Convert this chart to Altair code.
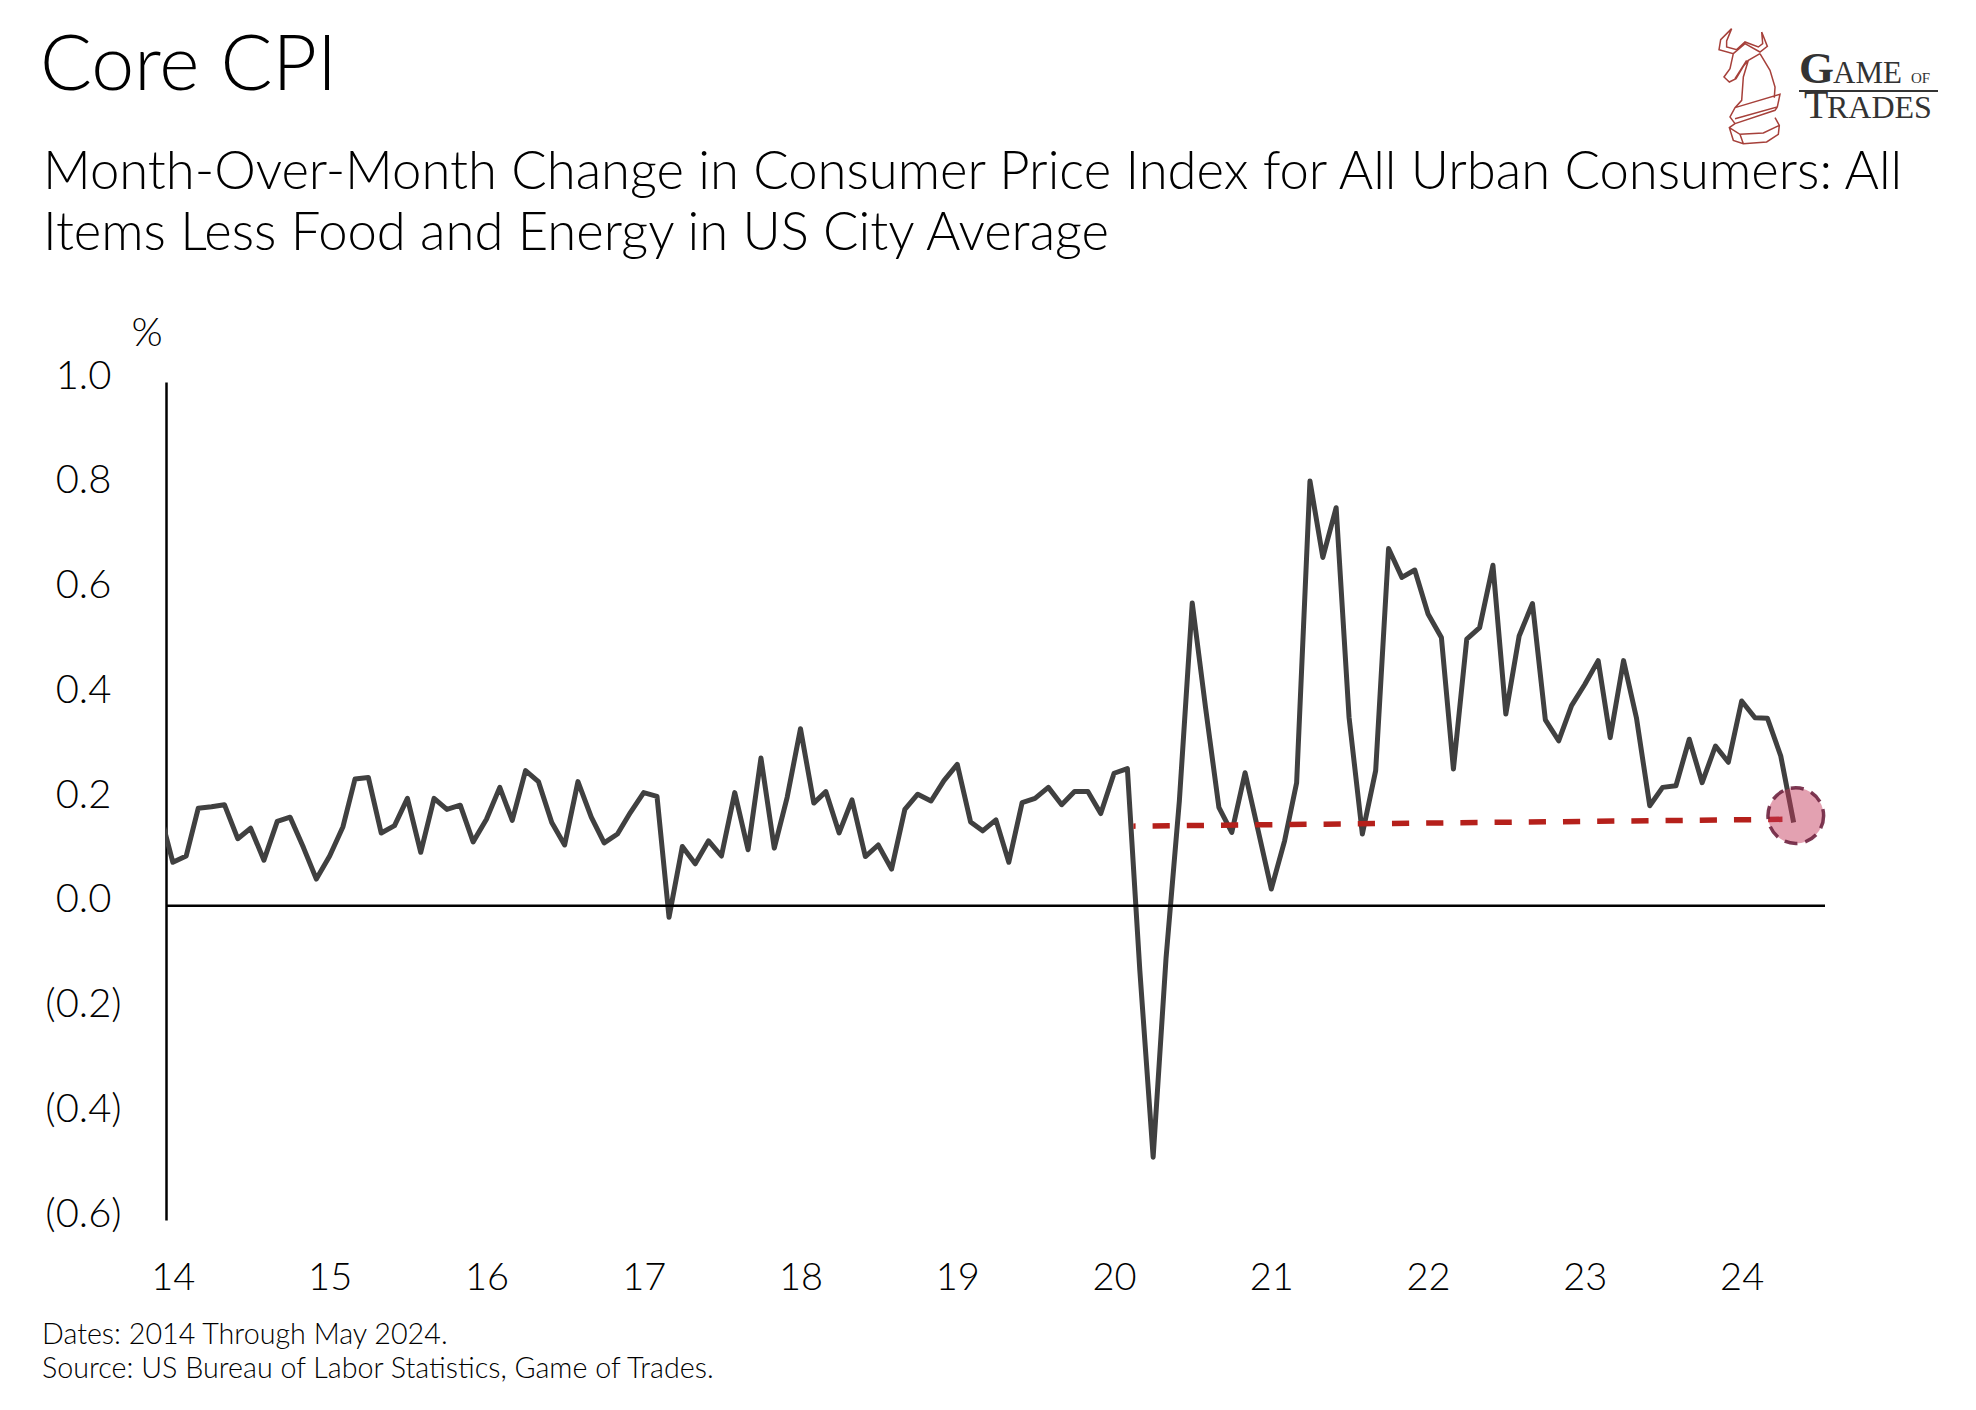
import altair as alt
import pandas as pd

# Monthly core CPI change, Dec 2013 through May 2024
cpi = [
    0.18,
    0.083, 0.095, 0.186, 0.189, 0.193, 0.128, 0.148, 0.087, 0.161, 0.169, 0.111, 0.051,
    0.095, 0.151, 0.242, 0.245, 0.139, 0.153, 0.205, 0.102, 0.205, 0.184, 0.192, 0.122,
    0.165, 0.226, 0.163, 0.258, 0.237, 0.159, 0.116, 0.237, 0.169, 0.120, 0.137, 0.178,
    0.216, 0.209, -0.022, 0.113, 0.080, 0.124, 0.095, 0.216, 0.107, 0.282, 0.110, 0.207,
    0.338, 0.196, 0.218, 0.139, 0.202, 0.094, 0.116, 0.070, 0.184, 0.213, 0.200, 0.239,
    0.270, 0.160, 0.143, 0.164, 0.083, 0.197, 0.205, 0.226, 0.193, 0.218, 0.218, 0.176,
    0.253, 0.262, -0.124, -0.480, -0.100, 0.200, 0.578, 0.378, 0.188, 0.140, 0.254, 0.145,
    0.032, 0.124, 0.235, 0.811, 0.665, 0.760, 0.360, 0.137, 0.258, 0.682, 0.627, 0.641,
    0.557, 0.512, 0.261, 0.509, 0.531, 0.650, 0.366, 0.515, 0.577, 0.355, 0.315, 0.382,
    0.423, 0.468, 0.321, 0.468, 0.359, 0.191, 0.226, 0.229, 0.318, 0.235, 0.305, 0.274,
    0.391, 0.359, 0.358, 0.286, 0.159,
]
months = pd.date_range("2013-12-01", periods=len(cpi), freq="MS")
trend_dates = ["2020-02-15T00:00:00", "2024-04-05T00:00:00"]
trend_values = [0.152, 0.165]
marker_date = ["2024-05-06T00:00:00"]
marker_value = [0.172]
x_domain = ["2013-12-16T00:00:00", "2024-07-13T00:00:00"]
y_domain = [-0.6, 1.0]
y_ticks = [1.0, 0.8, 0.6, 0.4, 0.2, 0.0, -0.2, -0.4, -0.6]

FONT = "Lato"
LEFT, TOP = 166, 382  # plot origin in page pixels

x_scale = alt.Scale(domain=x_domain)
y_scale = alt.Scale(domain=y_domain, nice=False, zero=False)


def text(t, x, y, size, font=FONT, weight=300, color="#000000", align="left"):
    return alt.Chart(pd.DataFrame({"t": [t]})).mark_text(
        align=align, baseline="alphabetic", fontSize=size, font=font,
        fontWeight=weight, color=color,
    ).encode(x=alt.value(x - LEFT), y=alt.value(y - TOP), text="t:N")


line = alt.Chart(pd.DataFrame({"date": months, "v": cpi})).mark_line(
    color="#404040", strokeWidth=5, clip=True, strokeJoin="round",
).encode(
    x=alt.X("date:T", scale=x_scale, title=None, axis=alt.Axis(
        format="%y", tickCount="year", domain=False, ticks=False, grid=False,
        labelFont=FONT, labelFontWeight=300, labelFontSize=38, labelColor="#000000",
        labelPadding=58, labelFlush=False, labelOverlap=False, labelBaseline="middle",
    )),
    y=alt.Y("v:Q", scale=y_scale, title=None, axis=alt.Axis(
        values=y_ticks, grid=False, ticks=False, domain=True, domainColor="#000000",
        domainWidth=2.5,
        labelExpr="datum.value < 0 ? '(' + format(-datum.value, '.1f') + ')' : format(datum.value, '.1f')",
        labelFont=FONT, labelFontWeight=300, labelFontSize=40, labelColor="#000000",
        labelAlign="center", labelPadding=83, labelOffset=-6, labelOverlap=False,
        labelFlush=False, labelBaseline="middle",
    )),
)

zero = alt.Chart(pd.DataFrame({"z": [0]})).mark_rule(color="#000000", strokeWidth=2.5).encode(
    y=alt.Y("z:Q", scale=y_scale)
)

trend = alt.Chart(pd.DataFrame({"date": trend_dates, "v": trend_values})).mark_line(
    color="#b5201b", strokeWidth=5.5, strokeDash=[17.2, 17], strokeDashOffset=15,
).encode(x=alt.X("date:T", scale=x_scale), y=alt.Y("v:Q", scale=y_scale))

marker = alt.Chart(pd.DataFrame({"date": marker_date, "v": marker_value})).mark_point(
    shape="circle", size=3100, filled=True, fill="#c4385a", fillOpacity=0.47,
    stroke="#6e2440", strokeWidth=3.5, strokeOpacity=0.9, strokeDash=[13, 8], opacity=1,
).encode(x=alt.X("date:T", scale=x_scale), y=alt.Y("v:Q", scale=y_scale))

# Logo: outline of the bull-headed knight, as one custom symbol path
def logo_path(strokes):
    cx, cy, r = 207, 227, 177
    out = []
    for s in strokes:
        out.append("M" + "L".join(f"{(px - cx) / r:.3f},{(py - cy) / r:.3f}" for px, py in s))
    return "".join(out)


logo_strokes = [
    [(155, 55), (122, 88), (117, 118), (160, 130), (195, 100), (240, 125), (262, 108), (245, 65)],
    [(155, 55), (140, 92), (140, 110), (170, 118), (195, 95), (235, 110), (248, 100), (245, 65)],
    [(160, 130), (150, 175), (132, 200), (148, 215), (168, 205), (190, 168), (205, 150), (240, 130)],
    [(240, 130), (270, 180), (285, 230), (283, 262)],
    [(205, 150), (190, 200), (185, 270), (165, 292), (150, 320), (165, 340)],
    [(165, 292), (300, 252), (292, 290), (165, 325)],
    [(165, 340), (285, 300), (292, 290)],
    [(165, 340), (148, 352), (160, 390), (190, 400), (260, 395), (295, 372), (298, 345), (285, 322)],
    [(148, 352), (180, 372), (250, 368), (298, 345)],
    [(180, 372), (190, 400)],
    [(165, 205), (200, 150)],
]
logo = alt.Chart(pd.DataFrame({"k": [1]})).mark_point(
    shape=logo_path(logo_strokes), size=13924, filled=False, stroke="#a6403a",
    strokeWidth=1.5, opacity=1,
).encode(x=alt.value(1749 - LEFT), y=alt.value(86 - TOP))

logo_rule = alt.Chart(pd.DataFrame({"k": [1]})).mark_rule(color="#333333", strokeWidth=2).encode(
    x=alt.value(1799 - LEFT), x2=alt.value(1938 - LEFT), y=alt.value(91 - TOP)
)

SERIF = "Liberation Serif"
chart = alt.layer(
    line, zero, trend, marker, logo, logo_rule,
    text("G", 1799, 83, 45, SERIF, 700, "#333333"),
    text("AME", 1833, 83, 31, SERIF, 400, "#333333"),
    text("OF", 1911, 83, 15, SERIF, 400, "#333333"),
    text("T", 1804, 118, 40, SERIF, 400, "#333333"),
    text("RADES", 1827, 118, 32, SERIF, 400, "#333333"),
    text("Core CPI", 40, 90, 77, weight=300),
    text("Month-Over-Month Change in Consumer Price Index for All Urban Consumers: All", 43, 189, 52.6),
    text("Items Less Food and Energy in US City Average", 43, 250, 52.6),
    text("%", 147, 346, 40, align="center"),
    text("Dates: 2014 Through May 2024.", 42, 1344, 28.7),
    text("Source: US Bureau of Labor Statistics, Game of Trades.", 42, 1378, 28.7),
).properties(
    width=1659, height=838, background="#ffffff",
    padding={"left": LEFT - 8, "top": TOP - 8, "right": 140, "bottom": 170},
    autosize=alt.AutoSizeParams(type="none"),
).configure_view(strokeWidth=0)

chart.save("out.html", embed_options={"renderer": "svg", "actions": False})
